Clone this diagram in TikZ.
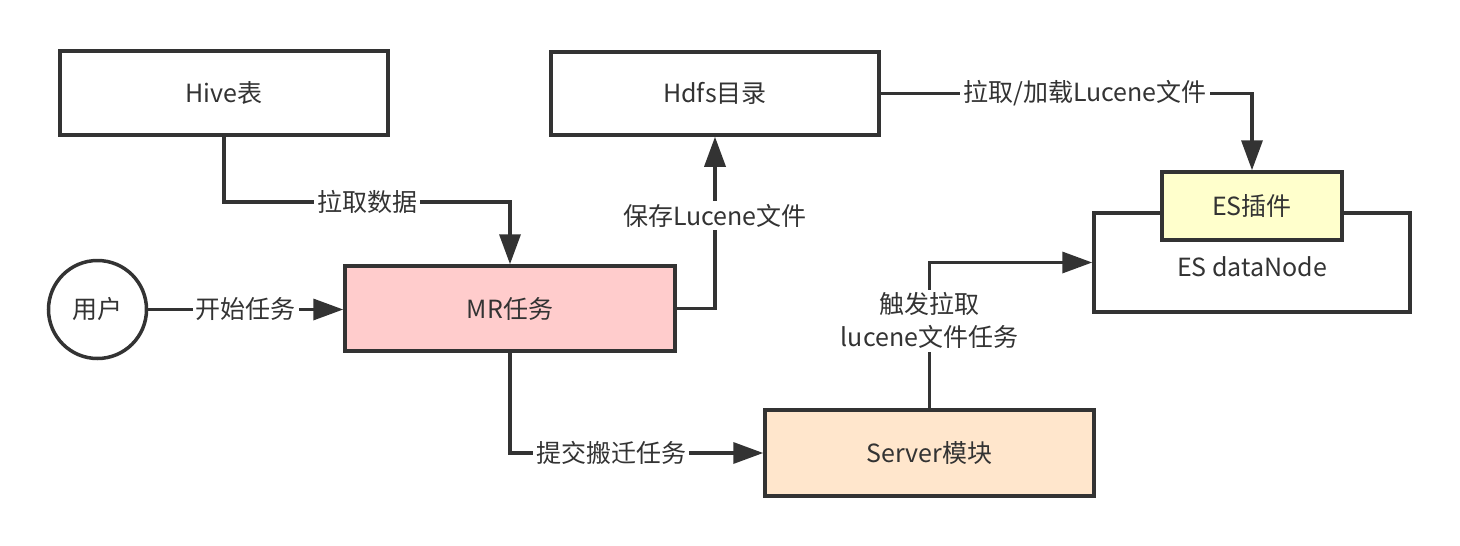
\documentclass[tikz,border=0pt]{standalone}
\usepackage{fontspec}
\setmainfont{Noto Sans CJK SC}
\usetikzlibrary{arrows.meta}
\definecolor{ln}{HTML}{333333}
\definecolor{pinkf}{HTML}{FFCCCC}
\definecolor{yelf}{HTML}{FFFFCC}
\definecolor{oraf}{HTML}{FFE6CC}
\begin{document}
\begin{tikzpicture}[x=1pt,y=-1pt,
  every node/.style={text=ln, font=\fontsize{25}{33}\selectfont},
  box/.style={draw=ln, line width=3.5pt, rectangle, inner sep=0pt},
  lbl/.style={fill=white, inner sep=3pt, align=center},
  arr/.style={draw=ln, line width=3.5pt, -{Triangle[length=30pt,width=21pt]}},
  conn/.style={draw=ln, line width=3.5pt}]
\useasboundingbox (0,0) rectangle (1460,546);
\fill[white] (0,0) rectangle (1460,546);
% nodes
\node[box, minimum width=328pt, minimum height=84pt] (hive) at (224,93) {Hive表};
\node[box, minimum width=328pt, minimum height=83pt] (hdfs) at (715,93.5) {Hdfs目录};
\node[box, fill=pinkf, minimum width=330pt, minimum height=85pt] (mr) at (510,308.5) {MR任务};
\node[box, fill=oraf, minimum width=329pt, minimum height=86pt] (srv) at (929.5,453) {Server模块};
\node[box, circle, minimum size=98pt] (user) at (97.5,309.5) {用户};
\node[box, minimum width=316pt, minimum height=99pt] (dn) at (1252,262.5) {};
\node (dntext) at (1252,267) {ES dataNode};
\node[box, fill=yelf, minimum width=180pt, minimum height=68pt] (esp) at (1252,206) {ES插件};
% connectors
\draw[arr] (hive.south) -- ++(0,65) -| node[lbl, pos=0.25] {拉取数据} (mr.north);
\draw[arr] (user.east) -- node[lbl] {开始任务} (mr.west |- user.east);
\draw[arr] (mr.east) -| node[lbl, pos=0.77] {保存Lucene文件} (hdfs.south);
\draw[arr] (hdfs.east) -| node[lbl, pos=0.275] {拉取/加载Lucene文件} (esp.north);
\draw[arr] (mr.south) |- node[lbl, pos=0.7] {提交搬迁任务} (srv.west);
\draw[arr] (srv.north) |- node[lbl, pos=0.3] {触发拉取\\lucene文件任务} (dn.west);
\end{tikzpicture}
\end{document}
